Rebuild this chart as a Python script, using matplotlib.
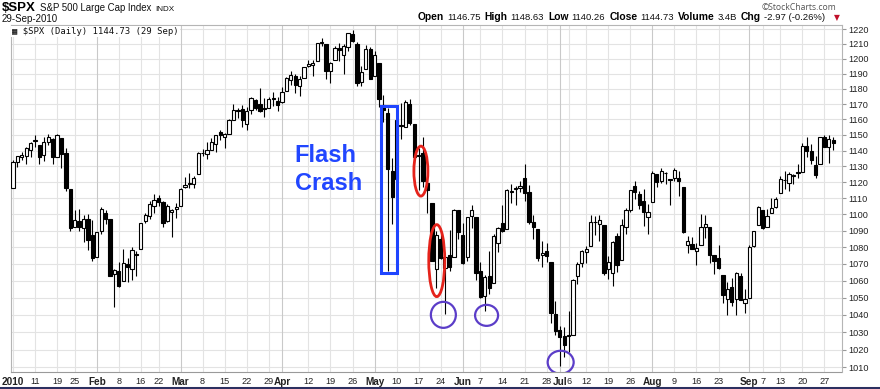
import numpy as np
import pandas as pd
import matplotlib
matplotlib.use('Agg')
import matplotlib.pyplot as plt
from matplotlib.patches import Ellipse, Rectangle
from matplotlib.transforms import ScaledTranslation
from matplotlib.ticker import FixedLocator, NullLocator, FixedFormatter

plt.rcParams['font.family'] = ['Liberation Sans', 'DejaVu Sans']

# trading days, Jan 4 - Sep 29 2010
holidays = ['2010-01-18', '2010-02-15', '2010-04-02', '2010-05-31', '2010-07-05', '2010-09-06']
days = pd.bdate_range('2010-01-04', '2010-09-29')
days = days[~days.isin(pd.to_datetime(holidays))]

opens = [
    1116.56, 1132.66, 1135.71, 1136.27, 1140.52, 1145.96, 1143.81, 1137.31, 1145.68, 1147.72, 1136.03, 1147.95, 1138.68, 1115.49, 1092.40, 1095.80, 1091.94, 1096.93, 1087.61,
    1073.89, 1090.05, 1100.67, 1097.25, 1064.12, 1065.51, 1060.06, 1069.68, 1067.10, 1075.95, 1079.13, 1096.14, 1099.03, 1105.49, 1110.00, 1107.49, 1095.89, 1101.24, 1103.10,
    1105.36, 1117.01, 1119.36, 1119.12, 1125.12, 1138.40, 1137.56, 1140.22, 1143.96, 1151.71, 1148.53, 1150.83, 1159.94, 1166.13, 1166.68, 1157.25, 1166.47, 1172.70, 1170.03, 1167.58, 1167.71, 1173.75, 1171.75,
    1171.23, 1178.71, 1186.01, 1188.23, 1181.75, 1187.47, 1194.94, 1195.94, 1198.69, 1210.77, 1210.17, 1192.06, 1199.04, 1207.16, 1202.52, 1207.87, 1217.07, 1209.92, 1184.59, 1193.30, 1206.77,
    1188.58, 1197.50, 1169.24, 1164.38, 1127.04, 1122.27, 1156.39, 1155.43, 1170.04, 1157.19, 1136.52, 1138.78, 1119.57, 1107.34, 1067.26, 1084.78, 1067.42, 1075.51, 1074.27, 1102.59,
    1087.30, 1073.89, 1098.82, 1098.43, 1065.84, 1050.81, 1062.75, 1058.77, 1082.65, 1095.00, 1091.21, 1114.02, 1115.98, 1116.16, 1122.79, 1113.90, 1095.57, 1090.93, 1075.10, 1077.50, 1071.10, 1040.56,
    1031.10, 1027.65, 1028.09, 1028.54, 1062.92, 1070.50, 1077.23, 1080.65, 1095.61, 1094.46, 1093.85, 1066.85, 1064.53, 1086.67, 1072.14, 1092.17, 1102.89, 1117.36, 1112.84, 1108.07, 1098.44,
    1107.53, 1125.34, 1121.06, 1125.78, 1122.07, 1122.80, 1122.92, 1116.89, 1081.48, 1082.22, 1077.49, 1081.16, 1092.08, 1092.44, 1075.63, 1073.36, 1063.20, 1048.98, 1056.28, 1049.27, 1062.90, 1046.88,
    1049.72, 1080.66, 1093.61, 1102.60, 1092.36, 1101.15, 1104.57, 1113.38, 1121.16, 1119.43, 1123.89, 1126.39, 1126.57, 1142.82, 1139.49, 1131.10, 1131.69, 1148.64, 1142.31, 1146.75,
]
highs = [
    1133.87, 1136.63, 1139.19, 1142.46, 1145.39, 1149.74, 1143.81, 1148.40, 1150.41, 1147.77, 1150.45, 1147.95, 1141.58, 1115.49, 1102.97, 1103.69, 1099.51, 1100.22, 1096.45,
    1089.38, 1104.73, 1102.72, 1097.25, 1067.13, 1071.20, 1079.28, 1073.67, 1080.04, 1077.81, 1095.06, 1101.03, 1108.24, 1112.42, 1112.29, 1108.58, 1106.42, 1103.50, 1107.24,
    1116.11, 1123.46, 1125.64, 1123.73, 1139.38, 1141.05, 1145.37, 1148.26, 1150.24, 1153.41, 1150.98, 1160.28, 1169.84, 1167.77, 1169.20, 1167.82, 1174.72, 1173.04, 1180.69, 1173.93, 1174.85, 1177.83, 1174.56,
    1181.43, 1187.73, 1191.80, 1189.60, 1188.55, 1194.66, 1199.20, 1199.04, 1210.65, 1213.92, 1210.17, 1197.87, 1208.58, 1210.99, 1210.27, 1217.28, 1219.80, 1211.38, 1195.05, 1209.36, 1207.99,
    1205.13, 1197.50, 1175.95, 1167.58, 1135.13, 1163.85, 1170.48, 1172.87, 1173.57, 1157.19, 1141.88, 1148.66, 1124.27, 1107.34, 1090.16, 1089.95, 1074.75, 1090.75, 1103.52, 1102.59,
    1094.77, 1098.56, 1105.67, 1098.43, 1071.36, 1063.15, 1077.74, 1087.85, 1092.25, 1105.91, 1115.59, 1118.74, 1117.72, 1121.01, 1131.23, 1118.50, 1099.64, 1090.93, 1083.56, 1082.60, 1071.10, 1048.08,
    1033.58, 1032.95, 1042.50, 1060.89, 1071.25, 1078.16, 1080.78, 1099.46, 1099.08, 1099.64, 1093.85, 1074.70, 1083.94, 1088.96, 1097.50, 1103.73, 1115.01, 1120.95, 1114.66, 1115.90, 1106.44,
    1127.30, 1125.44, 1128.75, 1126.56, 1122.07, 1129.24, 1127.16, 1116.89, 1086.72, 1086.25, 1082.62, 1100.14, 1099.77, 1092.44, 1075.63, 1081.58, 1063.20, 1059.38, 1061.45, 1065.21, 1064.40, 1055.14,
    1081.30, 1090.10, 1105.10, 1102.60, 1103.26, 1110.27, 1110.88, 1123.87, 1127.36, 1126.46, 1125.44, 1131.47, 1144.86, 1148.59, 1144.38, 1136.77, 1148.90, 1149.92, 1150.00, 1148.63,
]
lows = [
    1116.56, 1129.66, 1133.95, 1131.32, 1136.22, 1142.02, 1131.77, 1133.18, 1143.80, 1131.39, 1135.77, 1129.25, 1114.84, 1090.18, 1092.40, 1089.86, 1083.11, 1078.46, 1071.59,
    1073.89, 1087.96, 1093.97, 1062.78, 1044.50, 1056.51, 1060.06, 1059.34, 1060.59, 1062.97, 1079.13, 1094.72, 1097.48, 1100.80, 1105.38, 1092.18, 1095.50, 1086.02, 1097.56,
    1105.36, 1116.51, 1116.58, 1116.66, 1125.12, 1136.77, 1134.90, 1140.09, 1138.99, 1146.97, 1141.45, 1150.35, 1159.94, 1161.16, 1155.33, 1152.88, 1163.83, 1166.01, 1165.09, 1161.48, 1167.71, 1168.92, 1165.77,
    1170.69, 1178.71, 1182.77, 1177.25, 1175.12, 1187.15, 1194.71, 1188.82, 1198.69, 1208.50, 1186.77, 1183.68, 1199.04, 1198.85, 1190.19, 1205.10, 1211.07, 1181.62, 1181.81, 1193.30, 1186.32,
    1188.58, 1168.12, 1158.15, 1065.79, 1094.15, 1122.27, 1147.71, 1155.43, 1156.14, 1126.14, 1114.96, 1117.20, 1100.66, 1071.58, 1055.90, 1072.70, 1040.78, 1065.59, 1074.27, 1084.78,
    1069.89, 1072.03, 1091.81, 1060.50, 1049.86, 1042.17, 1052.25, 1058.77, 1077.12, 1089.03, 1091.21, 1107.13, 1105.87, 1113.93, 1108.24, 1094.18, 1085.31, 1071.60, 1067.89, 1071.45, 1035.18, 1028.33,
    1010.91, 1015.93, 1018.35, 1028.54, 1058.24, 1068.10, 1070.45, 1080.65, 1087.68, 1084.07, 1063.32, 1061.11, 1056.88, 1065.25, 1072.14, 1087.88, 1101.30, 1109.78, 1103.11, 1092.82, 1088.01,
    1107.53, 1116.76, 1119.46, 1118.81, 1105.59, 1120.91, 1111.58, 1088.55, 1076.69, 1079.00, 1069.49, 1081.16, 1085.76, 1070.66, 1063.91, 1067.08, 1046.68, 1039.83, 1045.40, 1039.70, 1048.79, 1040.88,
    1049.72, 1080.39, 1093.61, 1091.15, 1092.36, 1101.15, 1103.92, 1113.38, 1115.58, 1114.63, 1118.88, 1122.43, 1126.57, 1136.22, 1131.58, 1122.79, 1131.69, 1142.00, 1132.09, 1140.26,
]
closes = [
    1132.99, 1136.52, 1137.14, 1141.69, 1144.98, 1146.98, 1136.22, 1145.68, 1148.46, 1136.03, 1150.23, 1138.04, 1116.48, 1091.76, 1096.78, 1092.17, 1097.50, 1084.53, 1073.87,
    1089.19, 1103.32, 1097.28, 1063.11, 1066.19, 1056.74, 1070.52, 1068.13, 1078.47, 1075.51, 1094.87, 1099.51, 1106.75, 1109.17, 1108.01, 1094.60, 1105.24, 1102.94, 1104.49,
    1115.71, 1118.31, 1118.79, 1122.97, 1138.70, 1138.50, 1140.45, 1145.61, 1150.24, 1149.99, 1150.51, 1159.46, 1166.21, 1165.83, 1159.90, 1165.81, 1174.17, 1167.72, 1165.73, 1166.59, 1173.22, 1173.27, 1169.43,
    1178.10, 1187.44, 1189.44, 1182.45, 1186.44, 1194.37, 1196.48, 1197.30, 1210.65, 1211.67, 1192.13, 1197.52, 1207.17, 1205.94, 1208.67, 1217.28, 1212.05, 1183.71, 1191.36, 1206.78, 1186.69,
    1202.26, 1173.60, 1165.87, 1128.15, 1110.88, 1159.73, 1155.79, 1171.67, 1157.44, 1135.68, 1136.94, 1120.80, 1115.05, 1071.59, 1087.69, 1073.65, 1074.03, 1067.95, 1103.06, 1089.41,
    1070.71, 1098.38, 1102.83, 1064.88, 1050.47, 1062.00, 1055.69, 1086.84, 1091.60, 1089.63, 1115.23, 1114.61, 1116.04, 1117.51, 1113.20, 1095.31, 1092.04, 1073.69, 1076.76, 1074.57, 1041.24, 1030.71,
    1027.37, 1022.58, 1028.06, 1060.27, 1070.25, 1077.96, 1078.75, 1095.34, 1095.17, 1096.48, 1064.88, 1071.25, 1083.48, 1069.59, 1093.67, 1102.66, 1115.01, 1113.84, 1106.13, 1101.53, 1101.60,
    1125.86, 1120.46, 1127.24, 1125.81, 1121.64, 1127.79, 1121.06, 1089.47, 1083.61, 1079.25, 1079.38, 1092.54, 1094.16, 1075.63, 1071.69, 1067.36, 1051.87, 1055.33, 1047.22, 1064.59, 1048.92, 1049.33,
    1080.29, 1090.10, 1104.51, 1091.84, 1098.87, 1104.18, 1109.55, 1121.90, 1121.10, 1125.07, 1124.66, 1125.59, 1142.71, 1139.78, 1134.28, 1124.83, 1148.67, 1142.16, 1147.70, 1144.73,
]

label_dates = ['2010-01-04', '2010-01-11', '2010-01-19', '2010-01-25', '2010-02-01', '2010-02-08', '2010-02-16', '2010-02-22',
               '2010-03-01', '2010-03-08', '2010-03-15', '2010-03-22', '2010-03-29', '2010-04-01', '2010-04-12', '2010-04-19',
               '2010-04-26', '2010-05-03', '2010-05-10', '2010-05-17', '2010-05-24', '2010-06-01', '2010-06-07', '2010-06-14',
               '2010-06-21', '2010-06-28', '2010-07-01', '2010-07-06', '2010-07-12', '2010-07-19', '2010-07-26', '2010-08-02',
               '2010-08-09', '2010-08-16', '2010-08-23', '2010-09-01', '2010-09-07', '2010-09-13', '2010-09-20', '2010-09-27']
label_text = ['2010', '11', '19', '25', 'Feb', '8', '16', '22', 'Mar', '8', '15', '22', '29', 'Apr', '12', '19', '26', 'May',
              '10', '17', '24', 'Jun', '7', '14', '21', '28', 'Jul', '6', '12', '19', '26', 'Aug', '9', '16', '23', 'Sep', '7',
              '13', '20', '27']
price_ticks = list(range(1010, 1230, 10))

# annotations: (date, day offset, price, width px, height px)
red_rings = [('2010-05-17', 0.5, 1127, 14, 50), ('2010-05-21', 0.1, 1072, 16, 72)]
purple_rings = [('2010-05-24', 0.6, 1040, 25, 26), ('2010-06-08', 0.4, 1039.7, 23, 21), ('2010-07-01', 0.2, 1012.8, 26, 23)]
flash_box = ('2010-05-04', 0.5, '2010-05-10', 0.1, 1064.5, 1168.5)


def idx(d):
    return days.get_loc(pd.Timestamp(d))


W, H = 880, 389
fig = plt.figure(figsize=(W / 100, H / 100), dpi=100)
ax = fig.add_axes([11 / W, 17 / H, 831 / W, 347 / H])

x = np.arange(len(days))
o = np.array(opens)
c = np.array(closes)
up = c >= o

ax.vlines(x, lows, highs, color='black', lw=0.8, zorder=3)
bot = np.minimum(o, c)
hgt = np.maximum(np.abs(c - o), 0.15)
ax.bar(x[up], hgt[up], bottom=bot[up], width=0.74, facecolor='white', edgecolor='black', lw=0.8, zorder=4)
ax.bar(x[~up], hgt[~up], bottom=bot[~up], width=0.74, facecolor='black', edgecolor='black', lw=0.8, zorder=4)

ax.set_yscale('log')
ax.set_xlim(-0.45, 188.0)
ax.set_ylim(1007.3, 1222.9)

# grid
for y in price_ticks:
    ax.axhline(y, color='#e3e3e3', lw=0.8, zorder=0)
lx = [idx(d) for d in label_dates]
for p, t in zip(lx, label_text):
    ax.axvline(p, color='#c9c9c9' if not t.isdigit() else '#e3e3e3', lw=0.8, zorder=0)

ax.yaxis.tick_right()
ax.yaxis.set_major_locator(FixedLocator(price_ticks))
ax.yaxis.set_major_formatter(FixedFormatter([str(v) for v in price_ticks]))
ax.yaxis.set_minor_locator(NullLocator())
ax.tick_params(axis='y', length=3, color='#999999', pad=1.5, labelsize=6.6, labelcolor='#222222')

ax.set_xticks(lx)
ax.set_xticklabels(label_text)
ax.tick_params(axis='x', length=0, pad=3.5, labelsize=6.6, labelcolor='#222222')
for lab in ax.get_xticklabels():
    if not lab.get_text().isdigit() or lab.get_text() == '2010':
        lab.set_fontweight('bold')
        lab.set_fontsize(7.2)

for s in ['left', 'right', 'top']:
    ax.spines[s].set_color('#b5b5b5')
    ax.spines[s].set_linewidth(0.8)
ax.spines['bottom'].set_color('#9a9a9a')
ax.spines['bottom'].set_linestyle((0, (1, 1)))

# annotations
x0 = idx(flash_box[0]) + flash_box[1]
x1 = idx(flash_box[2]) + flash_box[3]
ax.add_patch(Rectangle((x0, flash_box[4]), x1 - x0, flash_box[5] - flash_box[4], fill=False,
                       edgecolor='#1f45ff', lw=2.2, zorder=6))
ax.text(63.9, 1144, 'Flash\nCrash', color='#2146ff', fontsize=17, fontweight='bold', va='top', ha='left',
        linespacing=1.25, zorder=6)

for rings, col, lw in [(red_rings, '#e5231b', 2.0), (purple_rings, '#5b3dc8', 1.6)]:
    for d, off, p, w, h in rings:
        tr = fig.dpi_scale_trans + ScaledTranslation(idx(d) + off, p, ax.transData)
        ax.add_patch(Ellipse((0, 0), w / 100, h / 100, transform=tr, fill=False, edgecolor=col, lw=lw, zorder=7))

# header text
rend = fig.canvas.get_renderer()


def run(xp, yp, parts):
    for s, bold, size, col, gap in parts:
        t = fig.text(xp / W, 1 - yp / H, s, fontsize=size, fontweight='bold' if bold else 'normal', color=col,
                     va='baseline', ha='left')
        xp += t.get_window_extent(rend).width + gap


run(2, 11, [('$SPX', True, 9.5, 'black', 4), ('S&P 500 Large Cap Index', False, 6.9, '#111111', 4),
            ('INDX', False, 5.9, '#111111', 0)])
fig.text(2 / W, 1 - 21.5 / H, '29-Sep-2010', fontsize=7.0, color='#111111', va='baseline')
run(418, 20.5, [('Open', True, 7.4, 'black', 3), ('1146.75', False, 6.8, '#111111', 4),
                ('High', True, 7.4, 'black', 3), ('1148.63', False, 6.8, '#111111', 4),
                ('Low', True, 7.4, 'black', 3), ('1140.26', False, 6.8, '#111111', 4),
                ('Close', True, 7.4, 'black', 3), ('1144.73', False, 6.8, '#111111', 4),
                ('Volume', True, 7.4, 'black', 3), ('3.4B', False, 6.8, '#111111', 4),
                ('Chg', True, 7.4, 'black', 3), ('-2.97 (-0.26%)', False, 6.8, '#111111', 1)])
fig.text(834 / W, 1 - 20.5 / H, '\u25bc', fontsize=5.5, color='#c0102a', va='baseline', family=['DejaVu Sans'])
fig.text(762 / W, 1 - 9.5 / H, '\u00a9StockCharts.com', fontsize=6.2, color='#555555', va='baseline',
         family=['Open Sans', 'DejaVu Sans'])

fig.text(12 / W, 1 - 34 / H, '\u25a6 $SPX (Daily) 1144.73 (29 Sep)', fontsize=6.4, color='#111111',
         va='baseline', family=['DejaVu Sans Mono', 'DejaVu Sans'],
         bbox=dict(facecolor='white', edgecolor='none', pad=1.0))

# navy rule at the bottom
fig.add_artist(plt.Line2D([0, 1], [1.2 / H, 1.2 / H], color='#2c3060', lw=2.2))

fig.savefig('out.png', dpi=100)
